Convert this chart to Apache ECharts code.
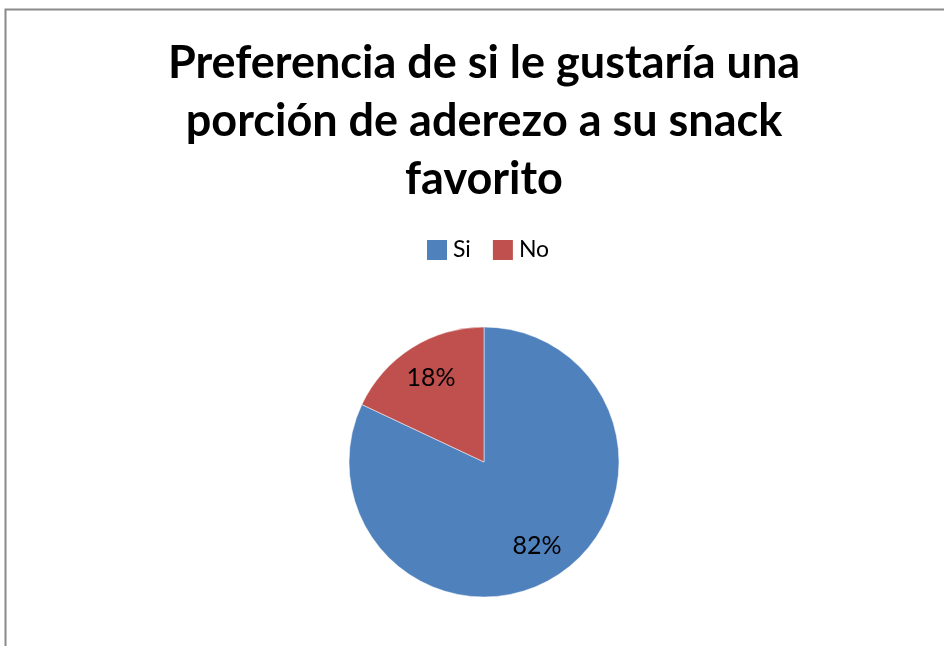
<!DOCTYPE html>
<html>
<head>
<meta charset="utf-8">
<script src="https://cdn.jsdelivr.net/npm/echarts@6/dist/echarts.min.js"></script>
<style>
html,body{margin:0;padding:0;background:#fff;}
#chart{width:944px;height:646px;}
</style>
</head>
<body>
<div id="chart"></div>
<script>
const titleText = 'Preferencia de si le gustaría una\nporción de aderezo a su snack\nfavorito';
const categories = ['Si', 'No'];
const values = [82, 18];
const colors = ['#4F81BD', '#C0504D'];

const chart = echarts.init(document.getElementById('chart'));
const data = categories.map((c, i) => ({ name: c, value: values[i], itemStyle: { color: colors[i] } }));
const FONT = 'Lato, "Open Sans", sans-serif';

chart.setOption({
  backgroundColor: '#ffffff',
  animation: false,
  graphic: [{
    type: 'rect',
    shape: { x: 5.5, y: 9.5, width: 1200, height: 1200 },
    style: { fill: 'none', stroke: '#8a8a8a', lineWidth: 2 },
    silent: true
  }],
  title: {
    text: titleText,
    left: 479,
    textAlign: 'center',
    top: 29,
    textStyle: { fontFamily: FONT, fontWeight: 'bold', fontSize: 45, lineHeight: 58, color: '#000' }
  },
  legend: {
    left: 420,
    top: 233,
    icon: 'rect',
    itemWidth: 22,
    itemHeight: 22,
    itemGap: 20,
    data: categories,
    textStyle: { fontFamily: FONT, fontSize: 23, color: '#000' }
  },
  series: [
    {
      type: 'pie',
      center: [484, 462],
      radius: 135,
      startAngle: 90,
      clockwise: true,
      silent: true,
      label: { show: false },
      labelLine: { show: false },
      itemStyle: { borderColor: '#ffffff', borderWidth: 0.5 },
      data: data
    },
    {
      type: 'pie',
      center: [484, 462],
      radius: [57, 135],
      startAngle: 90,
      clockwise: true,
      silent: true,
      itemStyle: { color: 'rgba(0,0,0,0)' },
      label: {
        show: true,
        position: 'inside',
        formatter: p => Math.round(p.percent) + '%',
        fontFamily: FONT,
        fontSize: 25,
        color: '#000'
      },
      labelLine: { show: false },
      data: categories.map((c, i) => ({ name: c, value: values[i] }))
    }
  ]
});
</script>
</body>
</html>
